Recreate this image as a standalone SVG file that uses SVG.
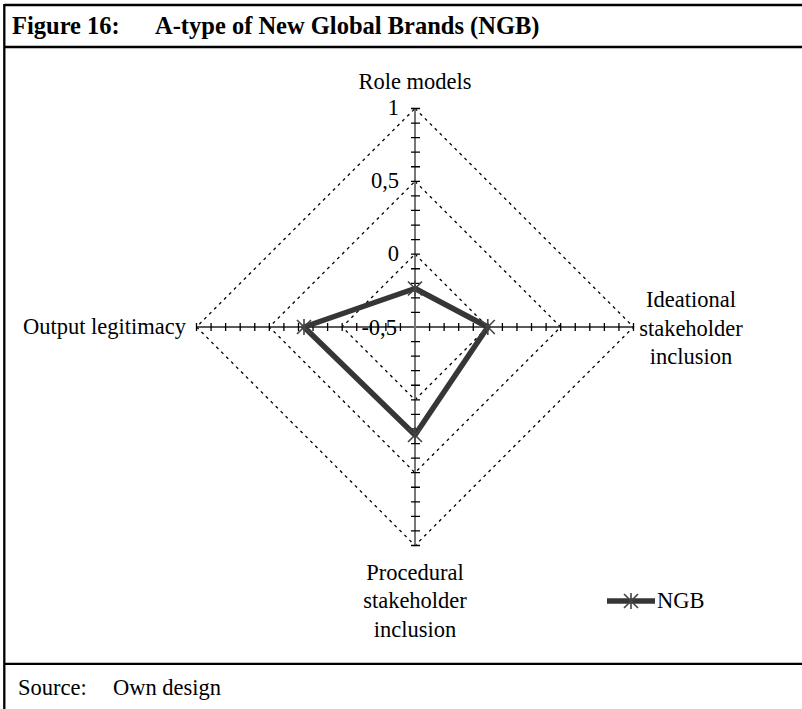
<svg xmlns="http://www.w3.org/2000/svg" width="802" height="709" viewBox="0 0 802 709">
<style>
.t{font-family:"Liberation Serif","Times New Roman",serif;font-size:22.5px;fill:#000}
.title{font-family:"Liberation Serif","Times New Roman",serif;font-size:24.5px;font-weight:bold;fill:#000}
.frame{stroke:#000;stroke-width:2.3;fill:none}
.grid{stroke:#000;stroke-width:1.3;fill:none;stroke-dasharray:3 4}
.tick{stroke:#000;stroke-width:1.3;fill:none}
.series{stroke:#363636;stroke-width:5.5;fill:none;stroke-linejoin:round}
.mk{stroke:#444;stroke-width:1.6;fill:none}
</style>
<defs>
<g id="star"><path d="M-7,-7 L7,7 M-7,7 L7,-7 M0,-8 L0,8"/></g>
</defs>
<rect width="802" height="709" fill="#fff"/>
<g id="frame">
<line class="frame" x1="4.3" y1="5" x2="802" y2="5"/>
<line class="frame" x1="4.3" y1="4" x2="4.3" y2="709"/>
<line class="frame" x1="4.3" y1="47" x2="802" y2="47"/>
<line class="frame" x1="4.3" y1="663.8" x2="802" y2="663.8"/>
<text class="title" x="12" y="34">Figure 16:</text>
<text class="title" x="155" y="34">A-type of New Global Brands (NGB)</text>
<text class="t" x="18" y="695">Source:</text>
<text class="t" x="113" y="695">Own design</text>
</g>
<g id="grid">
<path class="grid" d="M415,108.5 L633.5,327 L415,545.5 L196.5,327 Z"/>
<path class="grid" d="M415,181.33 L560.67,327 L415,472.67 L269.33,327 Z"/>
<path class="grid" d="M415,254.17 L487.83,327 L415,399.83 L342.17,327 Z"/>
</g>
<g id="axes">
<line x1="196.5" y1="327" x2="633.5" y2="327" stroke="#222" stroke-width="1.3"/>
<line x1="415" y1="108.5" x2="415" y2="545.5" stroke="#777" stroke-width="2"/>
<path class="tick" d="M411,312.43h9M411,297.87h9M411,283.3h9M411,268.73h9M411,254.17h9M411,239.6h9M411,225.03h9M411,210.47h9M411,195.9h9M411,181.33h9M411,166.77h9M411,152.2h9M411,137.63h9M411,123.07h9M411,108.5h9M411,341.57h9M411,356.13h9M411,370.7h9M411,385.27h9M411,399.83h9M411,414.4h9M411,428.97h9M411,443.53h9M411,458.1h9M411,472.67h9M411,487.23h9M411,501.8h9M411,516.37h9M411,530.93h9M411,545.5h9"/>
<path class="tick" d="M400.43,323v8M385.87,323v8M371.3,323v8M356.73,323v8M342.17,323v8M327.6,323v8M313.03,323v8M298.47,323v8M283.9,323v8M269.33,323v8M254.77,323v8M240.2,323v8M225.63,323v8M211.07,323v8M196.5,323v8M429.57,323v8M444.13,323v8M458.7,323v8M473.27,323v8M487.83,323v8M502.4,323v8M516.97,323v8M531.53,323v8M546.1,323v8M560.67,323v8M575.23,323v8M589.8,323v8M604.37,323v8M618.93,323v8M633.5,323v8"/>
<text class="t" x="399" y="115" text-anchor="end">1</text>
<text class="t" x="399" y="188" text-anchor="end">0,5</text>
<text class="t" x="399" y="261" text-anchor="end">0</text>
<text class="t" x="397" y="335" text-anchor="end">-0,5</text>
</g>
<g id="node-role-models"><text class="t" x="415" y="89" text-anchor="middle">Role models</text></g>
<g id="node-ideational"><text class="t" text-anchor="middle"><tspan x="691" y="307">Ideational</tspan><tspan x="691" y="335.5">stakeholder</tspan><tspan x="691" y="364">inclusion</tspan></text></g>
<g id="node-procedural"><text class="t" text-anchor="middle"><tspan x="415" y="580">Procedural</tspan><tspan x="415" y="608">stakeholder</tspan><tspan x="415" y="637">inclusion</tspan></text></g>
<g id="node-output"><text class="t" x="186" y="334" text-anchor="end">Output legitimacy</text></g>
<g id="series-ngb">
<path class="series" d="M415,288.5 L487.8,327 L415,435 L304,327 Z"/>
<g class="mk">
<use href="#star" x="415" y="288.5"/>
<use href="#star" x="487.8" y="327"/>
<use href="#star" x="415" y="435"/>
<use href="#star" x="304" y="327"/>
</g>
</g>
<g id="legend">
<line class="series" x1="607" y1="601" x2="655" y2="601"/>
<use class="mk" href="#star" x="631" y="601"/>
<text class="t" x="657" y="608">NGB</text>
</g>
</svg>
